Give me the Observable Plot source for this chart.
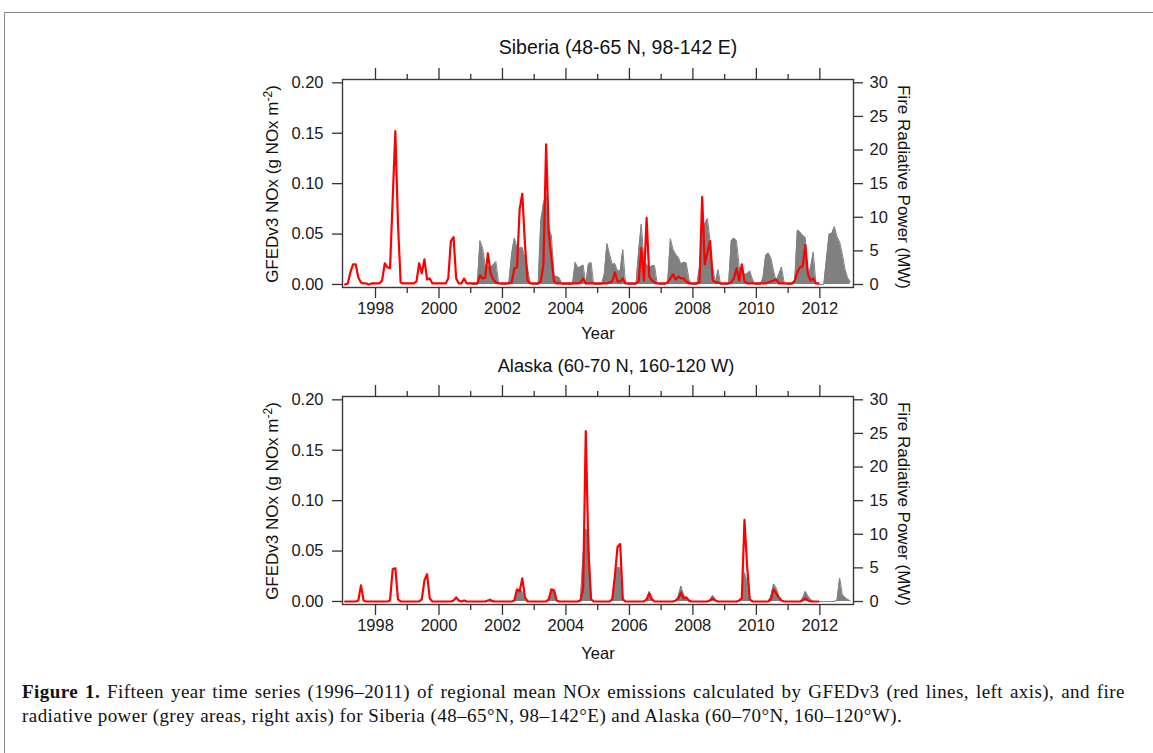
<!DOCTYPE html>
<html><head><meta charset="utf-8">
<script src="https://cdn.jsdelivr.net/npm/d3@7"></script>
<script src="https://cdn.jsdelivr.net/npm/@observablehq/plot@0.6"></script>
<style>
html,body{margin:0;padding:0;background:#fff;}
body{width:1153px;height:753px;overflow:hidden;position:relative;font-family:"Liberation Sans",Arial,sans-serif;color:#111;}
.abs{position:absolute;}
#border{left:4px;top:12px;width:1200px;height:800px;border-left:1.5px solid #8a8a8a;border-top:1.5px solid #8a8a8a;}
.ctr{transform:translate(-50%,-50%);white-space:nowrap;}
.xlab{font-size:16.5px;}
.ylabL{font-size:17px;transform:translate(-50%,-50%) rotate(-90deg);white-space:nowrap;}
.ylabR{font-size:17px;transform:translate(-50%,-50%) rotate(90deg);white-space:nowrap;}
.cap{font-family:"Liberation Serif","Times New Roman",serif;font-size:19px;letter-spacing:0.45px;color:#111;left:22px;white-space:nowrap;}
.cap.just{width:1103px;text-align:justify;text-align-last:justify;}
.layer{position:absolute;left:0;}
</style></head><body>
<div id="border" class="abs"></div>
<div id="charts"></div>
<script>
// ---- data (monthly values, Jan..Dec per row) ----
const noxYears = [1997,1998,1999,2000,2001,2002,2003,2004,2005,2006,2007,2008,2009,2010,2011];
const frpYears = [2001,2002,2003,2004,2005,2006,2007,2008,2009,2010,2011,2012];

// Siberia GFEDv3 NOx (g NOx m-2)
const sibNOx = [
  [.000,.001,.012,.020,.020,.007,.002,.001,.001,.000,.001,.001],
  [.001,.001,.004,.021,.017,.016,.085,.152,.060,.002,.001,.001],
  [.001,.001,.001,.003,.021,.011,.025,.005,.006,.001,.001,.001],
  [.001,.001,.001,.006,.043,.047,.006,.001,.001,.006,.001,.001],
  [.001,.001,.001,.009,.006,.007,.031,.011,.005,.002,.001,.001],
  [.001,.001,.001,.002,.016,.017,.075,.090,.040,.004,.001,.001],
  [.001,.001,.003,.020,.139,.050,.027,.003,.001,.001,.001,.001],
  [.001,.001,.001,.001,.001,.002,.006,.001,.001,.001,.001,.001],
  [.001,.001,.001,.001,.002,.003,.012,.003,.003,.006,.001,.001],
  [.001,.001,.001,.003,.036,.004,.066,.008,.004,.002,.001,.001],
  [.001,.001,.002,.006,.010,.005,.008,.006,.006,.003,.001,.001],
  [.001,.001,.002,.087,.020,.032,.043,.004,.002,.002,.001,.001],
  [.001,.001,.002,.006,.016,.004,.020,.003,.001,.001,.001,.001],
  [.001,.001,.001,.001,.002,.003,.004,.005,.001,.001,.001,.001],
  [.001,.001,.004,.012,.017,.018,.039,.010,.004,.006,.001,.001]
];
// Siberia fire radiative power (MW)
const sibFRP = [
  [0,0,0,6.5,5.4,2.8,2.6,2.6,2.9,3.4,0.4,0],
  [0,0,0.5,4.6,6.9,5.5,5.4,5.5,4.0,2.4,0.2,0],
  [0,0,9.5,12.0,13.5,8.5,7.3,1.3,1.2,1.0,0,0],
  [0,0,0,3.3,2.5,2.6,2.9,0,3.0,3.3,0,0],
  [0,0,1.5,6.1,4.5,3.0,3.1,2.0,2.0,5.2,0.3,0],
  [0,0,0,5.0,9.0,3.5,3.0,2.3,2.8,2.8,0.2,0],
  [0,0,0.5,6.8,5.2,4.5,4.0,3.0,3.3,3.2,0.8,0],
  [0,0,2.5,7.5,9.0,9.8,6.5,2.5,0.2,2.2,0,0],
  [0,0,6.5,6.9,6.5,2.6,2.0,1.5,1.6,2.0,0.8,0],
  [0,0,1.0,4.3,4.7,3.9,2.0,0.5,1.5,2.6,0.3,0],
  [0,0,0.5,8.1,7.8,7.3,7.0,1.4,2.5,4.8,0.2,0],
  [0,0,3.8,7.5,7.6,8.6,7.1,6.3,4.5,2.3,1.0,0.4]
];
// Alaska GFEDv3 NOx (g NOx m-2)
const akNOx = [
  [0,0,0,0,0,.001,.016,.001,0,0,0,0],
  [0,0,0,0,0,.001,.032,.033,.002,0,0,0],
  [0,0,0,0,0,.002,.021,.027,.003,0,0,0],
  [0,0,0,0,0,.001,.004,.001,0,.001,0,0],
  [0,0,0,0,0,0,.001,.001,0,0,0,0],
  [0,0,0,0,.001,.012,.010,.023,.004,0,0,0],
  [0,0,0,0,0,.002,.012,.011,.001,0,0,0],
  [0,0,0,0,0,.001,.012,.169,.050,.002,0,0],
  [0,0,0,0,0,.002,.025,.054,.057,.002,0,0],
  [0,0,0,0,0,0,.002,.008,.002,0,0,0],
  [0,0,0,0,0,.001,.003,.009,.003,.004,.001,0],
  [0,0,0,0,0,0,.001,.003,.001,0,0,0],
  [0,0,0,0,0,.001,.003,.081,.035,.002,0,0],
  [0,0,0,0,0,.002,.012,.008,.004,.001,0,0],
  [0,0,0,0,0,.001,.003,.001,0,0,0,0]
];
// Alaska fire radiative power (MW)
const akFRP = [
  [0,0,0,0,0,0,0.1,0.4,0.1,0,0,0],
  [0,0,0,0,0.2,1.6,1.8,1.5,0.2,0,0,0],
  [0,0,0,0,0,0.3,1.8,1.5,0.2,0,0,0],
  [0,0,0,0,0,0.3,7.0,10.8,10.0,0.3,0,0],
  [0,0,0,0,0,0.2,3.5,5.1,5.0,0.3,0,0],
  [0,0,0,0,0,0,0.3,1.5,0.5,0,0,0],
  [0,0,0,0,0,0.1,0.8,2.3,1.0,0.5,0,0],
  [0,0,0,0,0,0,0.3,0.9,0.3,0,0,0],
  [0,0,0,0,0,0.1,0.5,4.3,3.0,0.2,0,0],
  [0,0,0,0,0,0.8,2.6,2.0,0.8,0.2,0,0],
  [0,0,0,0,0,0.5,1.5,0.8,0.3,0,0,0],
  [0,0,0,0,0,0,0.2,3.5,1.0,0.6,0.3,0.1]
];

const noxTicks = [0, 0.05, 0.10, 0.15, 0.20];
const frpTicks = [0, 5, 10, 15, 20, 25, 30];
const majorYears = [1998, 2000, 2002, 2004, 2006, 2008, 2010, 2012];
const minorYears = [1999, 2001, 2003, 2005, 2007, 2009, 2011];

const panels = [
  {title: "Siberia (48-65 N, 98-142 E)", nox: sibNOx, frp: sibFRP},
  {title: "Alaska (60-70 N, 160-120 W)", nox: akNOx, frp: akFRP}
];

// ---- helpers ----
function monthly(rows, years) {
  const out = [];
  rows.forEach((row, i) => row.forEach((v, m) => out.push({t: years[i] + (m + 0.5) / 12, v})));
  return out;
}

const W = 1153, ML = 342, MR = 300;
const xDomain = [1996.96, 2013.06];
const noxDomain = [-0.003, 0.2033];
const frpDomain = [-0.446, 30.49];
const font = "Liberation Sans, Arial, sans-serif";
const ink = "#1a1a1a";
const FS = 16.5;

const layout = [
  {svgTop: 60, height: 285, mt: 19, mb: 58, titleX: 618, titleY: 47, titleSize: 19.5, yearY: 333, ycenter: 184},
  {svgTop: 380, height: 282, mt: 16, mb: 58, titleX: 616, titleY: 366, titleSize: 18.3, yearY: 653, ycenter: 501}
];

const host = document.getElementById("charts");
function addDiv(cls, text, x, y) {
  const d = document.createElement("div");
  d.className = "abs " + cls;
  d.style.left = x + "px"; d.style.top = y + "px";
  d.innerHTML = text;
  document.body.appendChild(d);
  return d;
}

panels.forEach((p, i) => {
  const L = layout[i];
  const nox = monthly(p.nox, noxYears);
  const frp = monthly(p.frp, frpYears);
  const common = {
    width: W, height: L.height, marginLeft: ML, marginRight: MR,
    marginTop: L.mt, marginBottom: L.mb,
    style: {background: "transparent", fontFamily: font, fontSize: FS + "px", color: ink, overflow: "visible"}
  };
  const frpPlot = Plot.plot({
    ...common,
    x: {domain: xDomain, axis: null},
    y: {domain: frpDomain},
    marks: [
      Plot.areaY(frp, {x: "t", y: "v", fill: "#808080"}),
      Plot.lineY(frp, {x: "t", y: "v", stroke: "#808080", strokeWidth: 1}),
      Plot.axisY(frpTicks, {anchor: "right", tickSize: 9, tickPadding: 7, label: null, fontSize: FS, stroke: "#333", strokeWidth: 1.3, fill: ink})
    ]
  });
  const noxPlot = Plot.plot({
    ...common,
    x: {domain: xDomain},
    y: {domain: noxDomain},
    marks: [
      Plot.lineY(nox, {x: "t", y: "v", stroke: "#ff0000", strokeWidth: 2.2, strokeLinejoin: "round"}),
      Plot.frame({stroke: "#3a3a3a", strokeWidth: 1.4}),
      Plot.axisY(noxTicks, {anchor: "left", tickSize: 10, tickPadding: 9, tickFormat: d3.format(".2f"), label: null, fontSize: FS, stroke: "#333", strokeWidth: 1.3, fill: ink}),
      Plot.axisX(majorYears, {anchor: "bottom", tickSize: 11, tickPadding: 4, tickFormat: d => String(d), label: null, fontSize: FS, stroke: "#333", strokeWidth: 1.3, fill: ink}),
      Plot.axisX(minorYears, {anchor: "bottom", tickSize: 6, tickFormat: () => "", label: null, stroke: "#333", strokeWidth: 1.3}),
      Plot.axisX(majorYears, {anchor: "top", tickSize: 12, tickFormat: () => "", label: null, stroke: "#333", strokeWidth: 1.3}),
      Plot.axisX(minorYears, {anchor: "top", tickSize: 6, tickFormat: () => "", label: null, stroke: "#333", strokeWidth: 1.3})
    ]
  });
  [frpPlot, noxPlot].forEach(el => {
    el.classList.add("layer");
    el.style.top = L.svgTop + "px";
    host.appendChild(el);
  });
  const t = addDiv("ctr", p.title, L.titleX, L.titleY);
  t.style.fontSize = L.titleSize + "px";
  addDiv("ctr xlab", "Year", 598, L.yearY);
  addDiv("ylabL", "GFEDv3 NOx (g NOx m<sup style=\"font-size:12px\">-2</sup>)", 272, L.ycenter);
  addDiv("ylabR", "Fire Radiative Power (MW)", 903, L.ycenter + 3);
});

addDiv("cap just", "<b>Figure 1.</b> Fifteen year time series (1996–2011) of regional mean NO<i>x</i> emissions calculated by GFEDv3 (red lines, left axis), and fire", 22, 681);
addDiv("cap", "radiative power (grey areas, right axis) for Siberia (48–65°N, 98–142°E) and Alaska (60–70°N, 160–120°W).", 22, 705);
</script>
</body></html>
